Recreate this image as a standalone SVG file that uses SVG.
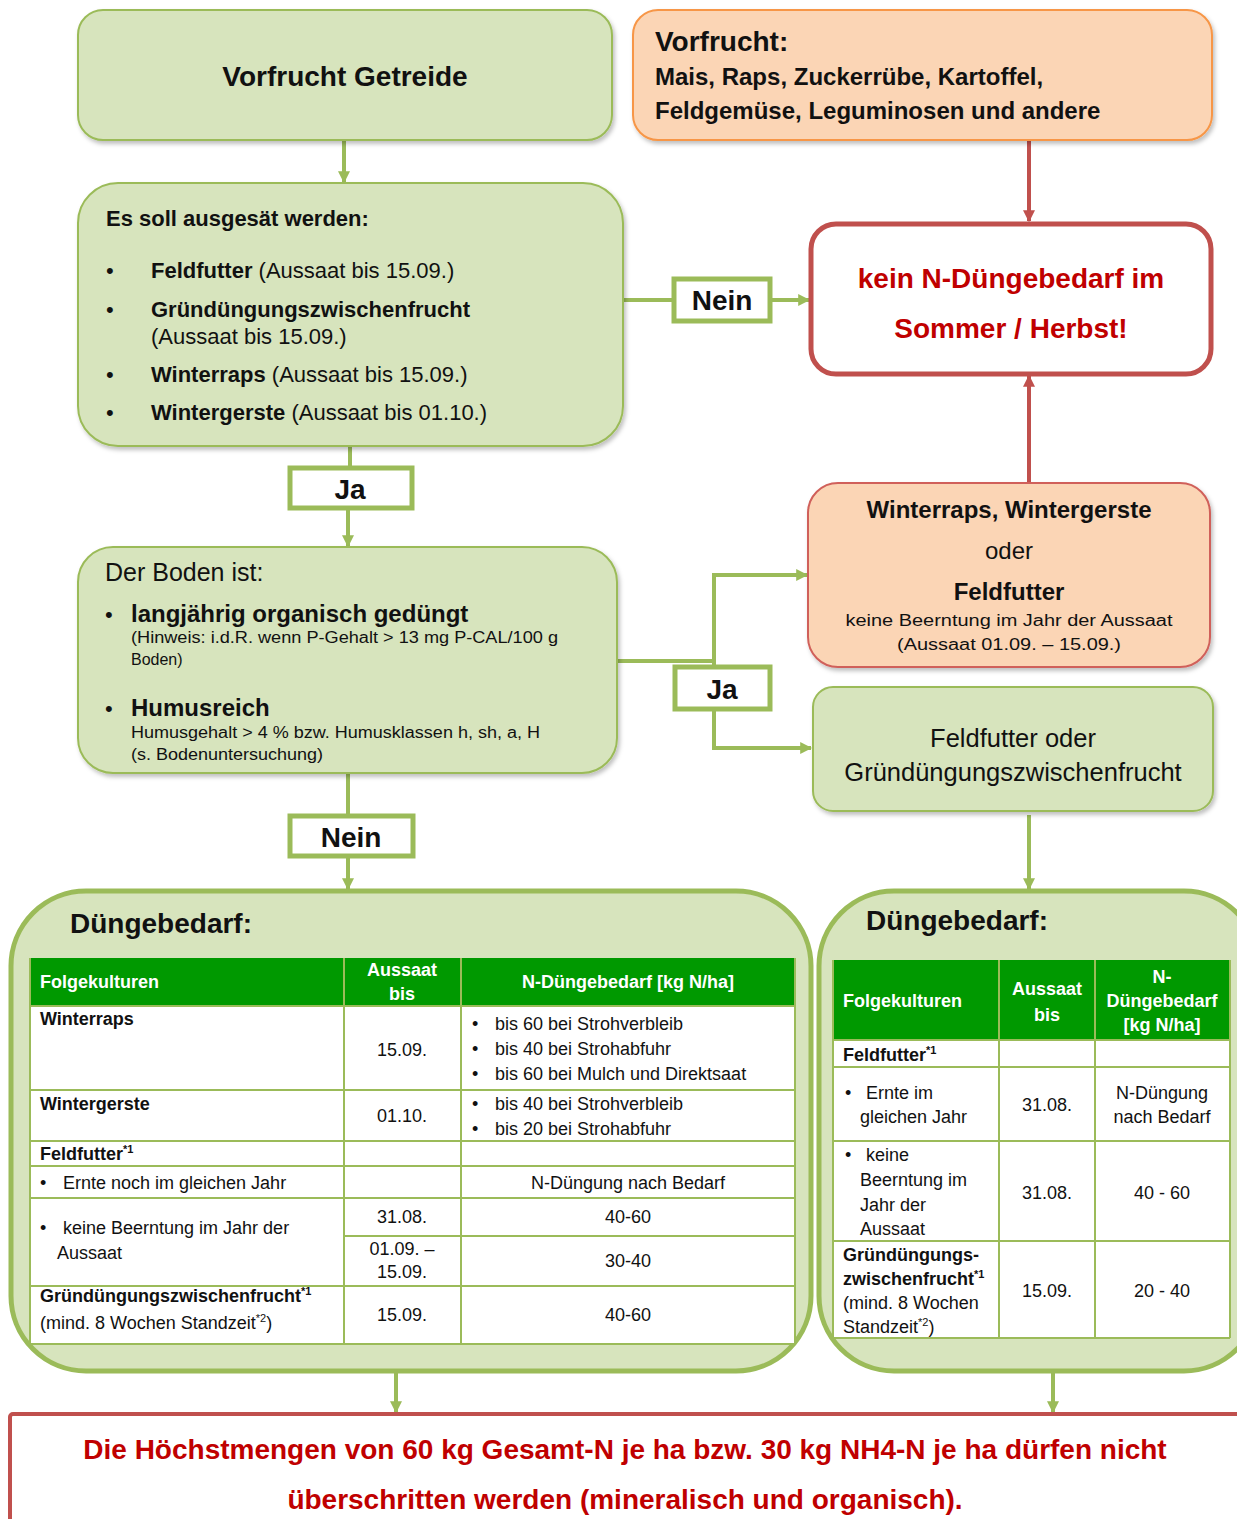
<svg xmlns="http://www.w3.org/2000/svg" width="1237" height="1519" viewBox="0 0 1237 1519">
<defs>
<style>
text{font-family:"Liberation Sans",Arial,sans-serif;fill:#111;}
.b{font-weight:bold;}
.g{fill:#D7E4BD;stroke:#9BBB59;stroke-width:2;}
.o{fill:#FBD5B5;stroke:#F79646;stroke-width:2;}
.or{fill:#FBD5B5;stroke:#D0605A;stroke-width:2;}
.big{fill:#D7E4BD;stroke:#9BBB59;stroke-width:5;}
.lab{fill:#fff;stroke:#9BBB59;stroke-width:5;}
.cg{fill:none;stroke:#9BBB59;stroke-width:4;}
.cr{fill:none;stroke:#C0504D;stroke-width:4;}
.hd{fill:#009900;}
.tl{stroke:#9BBB59;stroke-width:2;fill:none;}
.ht{fill:#fff;font-weight:bold;font-size:18px;}
.t{font-size:18px;}
.sm{font-size:16px;}
.red{fill:#C00000;font-weight:bold;}
.c{text-anchor:middle;}
</style>
<marker id="ag" viewBox="0 0 10 10" refX="9" refY="5" markerWidth="3" markerHeight="3" orient="auto"><path d="M0,0 L10,5 L0,10 z" fill="#9BBB59"/></marker>
<marker id="ar" viewBox="0 0 10 10" refX="9" refY="5" markerWidth="3" markerHeight="3" orient="auto"><path d="M0,0 L10,5 L0,10 z" fill="#C0504D"/></marker>
<filter id="sh" x="-5%" y="-5%" width="110%" height="115%"><feDropShadow dx="2" dy="3" stdDeviation="2" flood-color="#000" flood-opacity="0.25"/></filter>
</defs>
<rect width="1237" height="1519" fill="#fff"/>

<g id="connectors">
<line class="cg" x1="344" y1="140" x2="344" y2="182" marker-end="url(#ag)"/>
<line class="cr" x1="1029" y1="141" x2="1029" y2="221" marker-end="url(#ar)"/>
<polyline class="cg" points="623,300 674,300"/>
<line class="cg" x1="770" y1="300" x2="809" y2="300" marker-end="url(#ag)"/>
<line class="cg" x1="350" y1="446" x2="350" y2="467"/>
<line class="cg" x1="348" y1="509" x2="348" y2="546" marker-end="url(#ag)"/>
<line class="cr" x1="1029" y1="483" x2="1029" y2="376" marker-end="url(#ar)"/>
<polyline class="cg" points="617,661 714,661 714,575 807,575" marker-end="url(#ag)"/>
<polyline class="cg" points="714,661 714,748 811,748" marker-end="url(#ag)"/>
<line class="cg" x1="348" y1="773" x2="348" y2="815"/>
<line class="cg" x1="348" y1="857" x2="348" y2="889" marker-end="url(#ag)"/>
<line class="cg" x1="1029" y1="815" x2="1029" y2="889" marker-end="url(#ag)"/>
<line class="cg" x1="396" y1="1373" x2="396" y2="1412" marker-end="url(#ag)"/>
<line class="cg" x1="1053" y1="1373" x2="1053" y2="1412" marker-end="url(#ag)"/>
</g>

<g id="vorfrucht-getreide">
<rect class="g" x="78" y="10" width="534" height="130" rx="25" filter="url(#sh)"/>
<text class="b c" x="345" y="86" font-size="28">Vorfrucht Getreide</text>
</g>

<g id="vorfrucht-andere">
<rect class="o" x="633" y="10" width="579" height="130" rx="25" filter="url(#sh)"/>
<text class="b" x="655" y="51" font-size="28">Vorfrucht:</text>
<text class="b" x="655" y="85" font-size="24">Mais, Raps, Zuckerrübe, Kartoffel,</text>
<text class="b" x="655" y="119" font-size="24">Feldgemüse, Leguminosen und andere</text>
</g>

<g id="es-soll">
<rect class="g" x="78" y="183" width="545" height="263" rx="40" filter="url(#sh)"/>
<text class="b" x="106" y="226" font-size="22">Es soll ausgesät werden:</text>
<g font-size="22">
<text x="106" y="278">•</text><text x="151" y="278"><tspan class="b">Feldfutter</tspan> (Aussaat bis 15.09.)</text>
<text x="106" y="317">•</text><text class="b" x="151" y="317">Gründüngungszwischenfrucht</text>
<text x="151" y="344">(Aussaat bis 15.09.)</text>
<text x="106" y="382">•</text><text x="151" y="382"><tspan class="b">Winterraps</tspan> (Aussaat bis 15.09.)</text>
<text x="106" y="420">•</text><text x="151" y="420"><tspan class="b">Wintergerste</tspan> (Aussaat bis 01.10.)</text>
</g>
</g>

<g id="label-nein-1">
<rect class="lab" x="674" y="279" width="96" height="42"/>
<text class="b c" x="722" y="310" font-size="28">Nein</text>
</g>

<g id="kein-bedarf">
<rect x="811" y="224" width="400" height="150" rx="25" fill="#fff" stroke="#C0504D" stroke-width="5"/>
<text class="red c" x="1011" y="288" font-size="28">kein N-Düngebedarf im</text>
<text class="red c" x="1011" y="338" font-size="28">Sommer / Herbst!</text>
</g>

<g id="label-ja-1">
<rect class="lab" x="290" y="468" width="122" height="40"/>
<text class="b c" x="350" y="499" font-size="28">Ja</text>
</g>

<g id="boden">
<rect class="g" x="78" y="547" width="539" height="226" rx="35" filter="url(#sh)"/>
<text x="105" y="581" font-size="25">Der Boden ist:</text>
<text x="105" y="622" font-size="22">•</text>
<text class="b" x="131" y="622" font-size="24">langjährig organisch gedüngt</text>
<text class="sm" x="131" y="643" textLength="427" lengthAdjust="spacingAndGlyphs">(Hinweis: i.d.R. wenn P-Gehalt  &gt; 13 mg P-CAL/100 g</text>
<text class="sm" x="131" y="665">Boden)</text>
<text x="105" y="716" font-size="22">•</text>
<text class="b" x="131" y="716" font-size="24">Humusreich</text>
<text class="sm" x="131" y="738" textLength="409" lengthAdjust="spacingAndGlyphs">Humusgehalt &gt; 4 % bzw. Humusklassen h, sh, a, H</text>
<text class="sm" x="131" y="760" textLength="192" lengthAdjust="spacingAndGlyphs">(s. Bodenuntersuchung)</text>
</g>

<g id="label-ja-2">
<rect class="lab" x="675" y="667" width="95" height="42"/>
<text class="b c" x="722" y="699" font-size="28">Ja</text>
</g>

<g id="winterraps-feldfutter">
<rect class="or" x="808" y="483" width="402" height="184" rx="30" filter="url(#sh)"/>
<text class="b c" x="1009" y="518" font-size="24">Winterraps, Wintergerste</text>
<text class="c" x="1009" y="559" font-size="24">oder</text>
<text class="b c" x="1009" y="600" font-size="24">Feldfutter</text>
<text class="sm c" x="1009" y="626" textLength="327" lengthAdjust="spacingAndGlyphs">keine Beerntung im Jahr der Aussaat</text>
<text class="sm c" x="1009" y="650" textLength="224" lengthAdjust="spacingAndGlyphs">(Aussaat 01.09. – 15.09.)</text>
</g>

<g id="feldfutter-gruen">
<rect class="g" x="813" y="687" width="400" height="124" rx="20" filter="url(#sh)"/>
<text class="c" x="1013" y="747" font-size="25.5">Feldfutter oder</text>
<text class="c" x="1013" y="781" font-size="25.5">Gründüngungszwischenfrucht</text>
</g>

<g id="label-nein-2">
<rect class="lab" x="290" y="816" width="123" height="40"/>
<text class="b c" x="351" y="847" font-size="28">Nein</text>
</g>

<g id="duengebedarf-links">
<rect class="big" x="11" y="891" width="800" height="480" rx="75"/>
<text class="b" x="70" y="933" font-size="28">Düngebedarf:</text>
<rect class="hd" x="30" y="958" width="765" height="48"/>
<rect x="30" y="1006" width="765" height="338" fill="#fff"/>
<g class="tl">
<line x1="30" y1="1006" x2="795" y2="1006"/>
<line x1="30" y1="1090" x2="795" y2="1090"/>
<line x1="30" y1="1141" x2="795" y2="1141"/>
<line x1="30" y1="1166" x2="795" y2="1166"/>
<line x1="30" y1="1198" x2="795" y2="1198"/>
<line x1="344" y1="1236" x2="795" y2="1236"/>
<line x1="30" y1="1286" x2="795" y2="1286"/>
<line x1="30" y1="1344" x2="795" y2="1344"/>
<line x1="30" y1="958" x2="30" y2="1344"/>
<line x1="344" y1="958" x2="344" y2="1344"/>
<line x1="461" y1="958" x2="461" y2="1344"/>
<line x1="795" y1="958" x2="795" y2="1344"/>
</g>
<text class="ht" x="40" y="988">Folgekulturen</text>
<text class="ht c" x="402" y="976">Aussaat</text>
<text class="ht c" x="402" y="1000">bis</text>
<text class="ht c" x="628" y="988">N-Düngebedarf [kg N/ha]</text>
<text class="t b" x="40" y="1025">Winterraps</text>
<text class="t c" x="402" y="1056">15.09.</text>
<text class="t" x="472" y="1030">•</text><text class="t" x="495" y="1030">bis 60 bei Strohverbleib</text>
<text class="t" x="472" y="1055">•</text><text class="t" x="495" y="1055">bis 40 bei Strohabfuhr</text>
<text class="t" x="472" y="1080">•</text><text class="t" x="495" y="1080">bis 60 bei Mulch und Direktsaat</text>
<text class="t b" x="40" y="1110">Wintergerste</text>
<text class="t c" x="402" y="1122">01.10.</text>
<text class="t" x="472" y="1110">•</text><text class="t" x="495" y="1110">bis 40 bei Strohverbleib</text>
<text class="t" x="472" y="1135">•</text><text class="t" x="495" y="1135">bis 20 bei Strohabfuhr</text>
<text class="t b" x="40" y="1160">Feldfutter<tspan font-size="11" dy="-7">*1</tspan></text>
<text class="t" x="40" y="1189">•</text><text class="t" x="63" y="1189">Ernte noch im gleichen Jahr</text>
<text class="t c" x="628" y="1189">N-Düngung nach Bedarf</text>
<text class="t" x="40" y="1234">•</text><text class="t" x="63" y="1234">keine Beerntung im Jahr der</text>
<text class="t" x="57" y="1259">Aussaat</text>
<text class="t c" x="402" y="1223">31.08.</text>
<text class="t c" x="628" y="1223">40-60</text>
<text class="t c" x="402" y="1255">01.09. –</text>
<text class="t c" x="402" y="1278">15.09.</text>
<text class="t c" x="628" y="1267">30-40</text>
<text class="t b" x="40" y="1302">Gründüngungszwischenfrucht<tspan font-size="11" dy="-7">*1</tspan></text>
<text class="t" x="40" y="1329">(mind. 8 Wochen Standzeit<tspan font-size="11" dy="-7">*2</tspan><tspan dy="7">)</tspan></text>
<text class="t c" x="402" y="1321">15.09.</text>
<text class="t c" x="628" y="1321">40-60</text>
</g>

<g id="duengebedarf-rechts">
<rect class="big" x="819" y="891" width="440" height="480" rx="75"/>
<text class="b" x="866" y="930" font-size="28">Düngebedarf:</text>
<rect class="hd" x="833" y="960" width="397" height="80"/>
<rect x="833" y="1040" width="397" height="298" fill="#fff"/>
<g class="tl">
<line x1="833" y1="1040" x2="1230" y2="1040"/>
<line x1="833" y1="1067" x2="1230" y2="1067"/>
<line x1="833" y1="1141" x2="1230" y2="1141"/>
<line x1="833" y1="1241" x2="1230" y2="1241"/>
<line x1="833" y1="1338" x2="1230" y2="1338"/>
<line x1="833" y1="960" x2="833" y2="1338"/>
<line x1="999" y1="960" x2="999" y2="1338"/>
<line x1="1095" y1="960" x2="1095" y2="1338"/>
<line x1="1230" y1="960" x2="1230" y2="1338"/>
</g>
<text class="ht" x="843" y="1007">Folgekulturen</text>
<text class="ht c" x="1047" y="995">Aussaat</text>
<text class="ht c" x="1047" y="1021">bis</text>
<text class="ht c" x="1162" y="983">N-</text>
<text class="ht c" x="1162" y="1007">Düngebedarf</text>
<text class="ht c" x="1162" y="1031">[kg N/ha]</text>
<text class="t b" x="843" y="1061">Feldfutter<tspan font-size="11" dy="-7">*1</tspan></text>
<text class="t" x="845" y="1099">•</text><text class="t" x="866" y="1099">Ernte im</text>
<text class="t" x="860" y="1123">gleichen Jahr</text>
<text class="t c" x="1047" y="1111">31.08.</text>
<text class="t c" x="1162" y="1099">N-Düngung</text>
<text class="t c" x="1162" y="1123">nach Bedarf</text>
<text class="t" x="845" y="1161">•</text><text class="t" x="866" y="1161">keine</text>
<text class="t" x="860" y="1186">Beerntung im</text>
<text class="t" x="860" y="1211">Jahr der</text>
<text class="t" x="860" y="1235">Aussaat</text>
<text class="t c" x="1047" y="1199">31.08.</text>
<text class="t c" x="1162" y="1199">40 - 60</text>
<text class="t b" x="843" y="1261">Gründüngungs-</text>
<text class="t b" x="843" y="1285">zwischenfrucht<tspan font-size="11" dy="-7">*1</tspan></text>
<text class="t" x="843" y="1309">(mind. 8 Wochen</text>
<text class="t" x="843" y="1333">Standzeit<tspan font-size="11" dy="-7">*2</tspan><tspan dy="7">)</tspan></text>
<text class="t c" x="1047" y="1297">15.09.</text>
<text class="t c" x="1162" y="1297">20 - 40</text>
</g>

<g id="hoechstmengen">
<rect x="10" y="1414" width="1260" height="200" rx="3" fill="#fff" stroke="#C0504D" stroke-width="4"/>
<text class="red c" x="625" y="1459" font-size="28">Die Höchstmengen von 60 kg Gesamt-N je ha bzw. 30 kg NH4-N je ha dürfen nicht</text>
<text class="red c" x="625" y="1509" font-size="28">überschritten werden (mineralisch und organisch).</text>
</g>
</svg>
